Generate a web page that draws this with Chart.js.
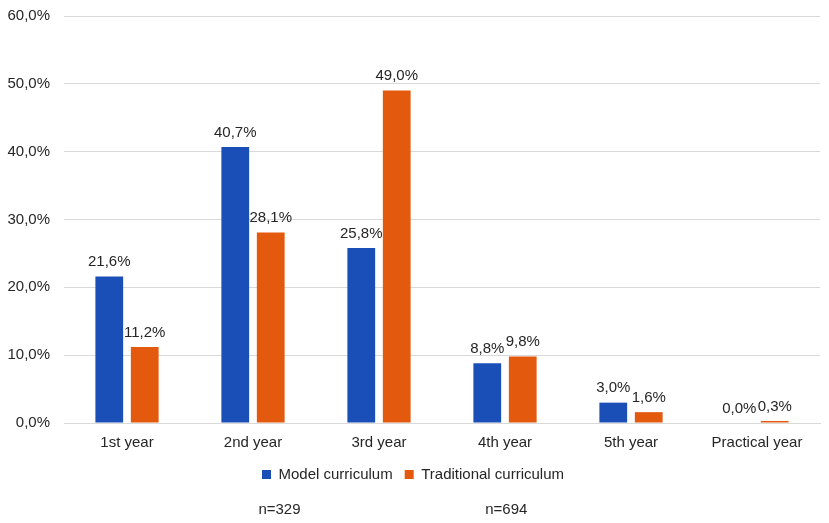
<!DOCTYPE html>
<html>
<head>
<meta charset="utf-8">
<script src="https://cdn.jsdelivr.net/npm/chart.js@4.4.1/dist/chart.umd.min.js"></script>
<style>
  html, body { margin: 0; padding: 0; background: #fff; }
  #wrap { width: 829px; height: 523px; }
</style>
</head>
<body>
<div id="wrap"><canvas id="chart"></canvas></div>
<script>
const categories = ['1st year', '2nd year', '3rd year', '4th year', '5th year', 'Practical year'];
const modelValues = [21.6, 40.7, 25.8, 8.8, 3.0, 0.0];
const traditionalValues = [11.2, 28.1, 49.0, 9.8, 1.6, 0.3];
const seriesNames = ['Model curriculum', 'Traditional curriculum'];
const sampleNotes = ['n=329', 'n=694'];

const fontFamily = '"Liberation Sans", Arial, sans-serif';
const textColor = '#262626';
const fontSize = 15;

function fmt(v) {
    return v.toFixed(1).replace('.', ',') + '%';
}

// value labels on top of each bar
const barLabels = {
    id: 'barLabels',
    afterDatasetsDraw(chart) {
        const ctx = chart.ctx;
        ctx.save();
        ctx.font = fontSize + 'px ' + fontFamily;
        ctx.fillStyle = textColor;
        ctx.textAlign = 'center';
        ctx.textBaseline = 'bottom';
        chart.data.datasets.forEach((ds, i) => {
            chart.getDatasetMeta(i).data.forEach((bar, j) => {
                ctx.fillText(fmt(ds.data[j]), bar.x, bar.y - 7);
            });
        });
        ctx.restore();
    }
};

// sample sizes under the legend
const notes = {
    id: 'notes',
    afterDraw(chart) {
        const ctx = chart.ctx;
        const area = chart.chartArea;
        const w = area.right - area.left;
        ctx.save();
        ctx.font = fontSize + 'px ' + fontFamily;
        ctx.fillStyle = textColor;
        ctx.textAlign = 'center';
        ctx.textBaseline = 'middle';
        ctx.fillText(sampleNotes[0], area.left + w * 0.285, chart.height - 13);
        ctx.fillText(sampleNotes[1], area.left + w * 0.585, chart.height - 13);
        ctx.restore();
    }
};

new Chart(document.getElementById('chart'), {
    type: 'bar',
    data: {
        labels: categories,
        datasets: [{
            label: seriesNames[0],
            data: modelValues,
            backgroundColor: '#1a4fb8',
            categoryPercentage: 0.563,
            barPercentage: 0.783
        }, {
            label: seriesNames[1],
            data: traditionalValues,
            backgroundColor: '#e35a0e',
            categoryPercentage: 0.563,
            barPercentage: 0.783
        }]
    },
    options: {
        responsive: true,
        maintainAspectRatio: false,
        animation: false,
        layout: { padding: { top: 16, right: 9, left: 6, bottom: 31 } },
        plugins: {
            legend: {
                position: 'bottom',
                labels: {
                    boxWidth: 9,
                    boxHeight: 9,
                    padding: 12,
                    color: textColor,
                    font: { size: fontSize, family: fontFamily }
                }
            },
            tooltip: { enabled: false }
        },
        scales: {
            x: {
                grid: { display: false },
                border: { color: '#d9d9d9' },
                ticks: { color: textColor, font: { size: fontSize, family: fontFamily }, padding: 3 }
            },
            y: {
                min: 0,
                max: 60,
                afterFit: scale => {
                    scale.width = 58;
                    scale.paddingTop = 0;
                    scale.paddingBottom = 0;
                },
                ticks: {
                    stepSize: 10,
                    color: textColor,
                    font: { size: fontSize, family: fontFamily },
                    padding: 14,
                    callback: v => fmt(v)
                },
                grid: { color: '#d9d9d9', drawTicks: false },
                border: { display: false }
            }
        }
    },
    plugins: [barLabels, notes]
});
</script>
</body>
</html>
